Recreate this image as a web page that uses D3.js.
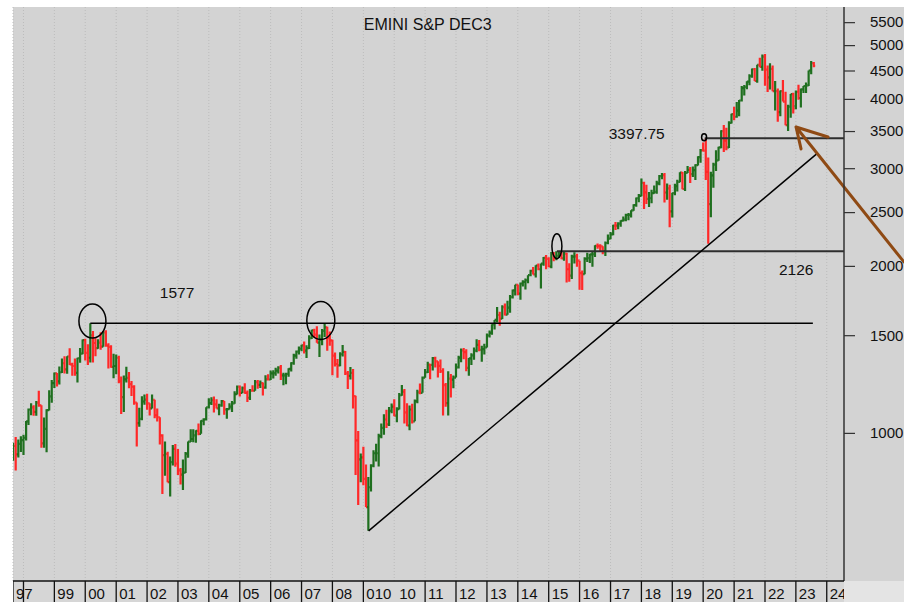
<!DOCTYPE html>
<html lang="en">
<head>
<meta charset="UTF-8">
<title>EMINI S&amp;P DEC3</title>
<script src="https://d3js.org/d3.v7.min.js"></script>
<style>
  body { margin: 0; background: #fff; }
  svg { display: block; font-family: "Liberation Sans", Arial, sans-serif; }
</style>
</head>
<body>
<svg id="chart" width="904" height="602"></svg>
<script>
// monthly bars, first bar = Sep 1997
var firstYear = 1997, firstMonth = 8;

var opens = [
  899, 947, 915, 955,
  970, 980, 1049, 1102, 1112, 1091, 1134, 1121, 957, 1017, 1099, 1164,
  1229, 1280, 1238, 1286, 1335, 1302, 1373, 1329, 1320, 1283, 1363, 1389,
  1469, 1394, 1366, 1499, 1452, 1421, 1455, 1431, 1518, 1437, 1429, 1315,
  1320, 1366, 1240, 1160, 1249, 1256, 1224, 1211, 1134, 1041, 1060, 1139,
  1148, 1130, 1107, 1147, 1076, 1067, 990, 912, 916, 815, 886, 936,
  880, 856, 841, 848, 917, 964, 975, 990, 1008, 996, 1051, 1058,
  1112, 1131, 1145, 1126, 1107, 1121, 1141, 1102, 1104, 1115, 1130, 1174,
  1212, 1181, 1204, 1181, 1157, 1192, 1191, 1234, 1220, 1229, 1207, 1249,
  1248, 1280, 1281, 1295, 1311, 1270, 1270, 1277, 1304, 1336, 1378, 1401,
  1418, 1438, 1407, 1421, 1482, 1531, 1503, 1455, 1474, 1527, 1549, 1481,
  1468, 1378, 1331, 1323, 1386, 1400, 1280, 1267, 1283, 1165, 969, 896,
  903, 826, 735, 798, 873, 919, 919, 987, 1021, 1057, 1036, 1096,
  1115, 1074, 1104, 1169, 1187, 1089, 1031, 1102, 1049, 1141, 1183, 1181,
  1258, 1286, 1327, 1326, 1364, 1345, 1321, 1292, 1219, 1131, 1253, 1247,
  1258, 1312, 1366, 1408, 1398, 1310, 1362, 1379, 1407, 1441, 1412, 1416,
  1426, 1498, 1515, 1569, 1598, 1631, 1606, 1686, 1633, 1682, 1757, 1806,
  1848, 1783, 1859, 1872, 1884, 1924, 1960, 1931, 2003, 1972, 2018, 2068,
  2059, 1995, 2105, 2068, 2086, 2107, 2063, 2104, 1972, 1920, 2079, 2080,
  2044, 1940, 1932, 2060, 2065, 2097, 2099, 2174, 2171, 2168, 2126, 2199,
  2239, 2279, 2364, 2363, 2384, 2412, 2423, 2470, 2472, 2519, 2575, 2648,
  2674, 2824, 2714, 2641, 2648, 2705, 2718, 2816, 2902, 2914, 2712, 2760,
  2507, 2704, 2784, 2834, 2946, 2752, 2942, 2980, 2926, 2977, 3038, 3141,
  3231, 3226, 2954, 2585, 2912, 3044, 3100, 3271, 3500, 3363, 3270, 3622,
  3756, 3714, 3811, 3973, 4181, 4204, 4298, 4395, 4523, 4308, 4605, 4567,
  4766, 4516, 4374, 4530, 4132, 4132, 3785, 4130, 3955, 3586, 3872, 4080,
  3880, 4120, 4015, 4160, 4220, 4230, 4500, 4640
];
var highs = [
  960, 983, 973, 986,
  992, 1051, 1106, 1131, 1122, 1141, 1191, 1122, 1066, 1103, 1193, 1245,
  1285, 1282, 1317, 1362, 1375, 1375, 1421, 1338, 1362, 1366, 1422, 1474,
  1478, 1444, 1577, 1527, 1481, 1475, 1518, 1525, 1531, 1451, 1439, 1389,
  1384, 1377, 1264, 1269, 1316, 1287, 1240, 1219, 1134, 1110, 1164, 1173,
  1176, 1131, 1173, 1147, 1107, 1067, 994, 965, 925, 907, 951, 955,
  935, 864, 895, 924, 965, 1015, 1015, 1011, 1040, 1054, 1063, 1112,
  1155, 1159, 1163, 1150, 1128, 1146, 1141, 1109, 1131, 1142, 1188, 1217,
  1217, 1212, 1229, 1192, 1200, 1219, 1246, 1245, 1243, 1233, 1270, 1276,
  1295, 1297, 1311, 1318, 1326, 1284, 1283, 1307, 1340, 1389, 1407, 1431,
  1441, 1461, 1438, 1499, 1535, 1540, 1556, 1504, 1539, 1577, 1553, 1523,
  1472, 1396, 1359, 1397, 1440, 1405, 1293, 1314, 1303, 1167, 1008, 918,
  944, 877, 833, 878, 930, 956, 996, 1040, 1080, 1101, 1113, 1130,
  1150, 1112, 1180, 1220, 1200, 1131, 1120, 1129, 1149, 1196, 1228, 1263,
  1303, 1344, 1333, 1370, 1371, 1346, 1356, 1307, 1230, 1292, 1277, 1269,
  1334, 1378, 1420, 1422, 1415, 1364, 1392, 1426, 1475, 1470, 1435, 1448,
  1510, 1530, 1570, 1598, 1687, 1654, 1698, 1710, 1730, 1772, 1814, 1849,
  1851, 1867, 1884, 1897, 1924, 1968, 1991, 2005, 2019, 2019, 2075, 2093,
  2072, 2119, 2118, 2126, 2124, 2122, 2120, 2113, 2021, 2094, 2117, 2104,
  2044, 1962, 2073, 2111, 2103, 2120, 2178, 2194, 2188, 2170, 2214, 2278,
  2301, 2372, 2400, 2398, 2418, 2454, 2484, 2491, 2520, 2582, 2657, 2695,
  2873, 2835, 2801, 2717, 2742, 2791, 2848, 2917, 2941, 2940, 2815, 2800,
  2708, 2813, 2860, 2949, 2954, 2964, 3028, 3014, 3022, 3050, 3154, 3248,
  3338, 3398, 3137, 2955, 3068, 3233, 3280, 3513, 3588, 3549, 3646, 3760,
  3870, 3950, 3983, 4219, 4238, 4302, 4430, 4538, 4546, 4608, 4743, 4809,
  4818, 4595, 4637, 4593, 4307, 4178, 4140, 4325, 4120, 3905, 4080, 4101,
  4140, 4240, 4175, 4220, 4280, 4500, 4680, 4660
];
var lows = [
  891, 855, 903, 924,
  912, 969, 1033, 1076, 1074, 1074, 1114, 940, 940, 923, 1097, 1133,
  1205, 1212, 1223, 1282, 1280, 1278, 1325, 1268, 1268, 1233, 1338, 1386,
  1350, 1326, 1339, 1339, 1374, 1418, 1412, 1429, 1430, 1306, 1311, 1254,
  1275, 1229, 1082, 1091, 1232, 1203, 1165, 1124, 945, 1026, 1054, 1124,
  1101, 1075, 1107, 1063, 1048, 953, 776, 837, 815, 768, 873, 869,
  840, 807, 789, 847, 902, 963, 962, 960, 990, 996, 1032, 1053,
  1106, 1123, 1088, 1107, 1076, 1114, 1078, 1060, 1102, 1090, 1128, 1173,
  1163, 1180, 1176, 1137, 1146, 1188, 1191, 1201, 1205, 1168, 1201, 1246,
  1246, 1253, 1268, 1280, 1245, 1219, 1224, 1262, 1290, 1327, 1360, 1385,
  1403, 1390, 1364, 1416, 1476, 1484, 1454, 1370, 1439, 1489, 1406, 1435,
  1270, 1317, 1257, 1318, 1373, 1272, 1200, 1248, 1107, 840, 741, 815,
  805, 735, 666, 784, 867, 888, 870, 978, 992, 1020, 1029, 1085,
  1071, 1045, 1102, 1167, 1040, 1028, 1011, 1040, 1049, 1131, 1174, 1181,
  1257, 1282, 1249, 1295, 1312, 1259, 1282, 1075, 1114, 1075, 1158, 1203,
  1258, 1306, 1340, 1357, 1291, 1267, 1325, 1355, 1397, 1403, 1343, 1385,
  1426, 1485, 1502, 1536, 1581, 1560, 1605, 1627, 1633, 1646, 1747, 1768,
  1770, 1738, 1835, 1814, 1860, 1915, 1930, 1905, 1964, 1821, 2001, 1972,
  1988, 1980, 2039, 2048, 2067, 2056, 2044, 1867, 1872, 1894, 2019, 1993,
  1812, 1810, 1932, 2033, 2025, 1992, 2074, 2147, 2120, 2098, 2084, 2188,
  2234, 2271, 2322, 2329, 2353, 2405, 2407, 2417, 2446, 2515, 2557, 2605,
  2670, 2533, 2585, 2553, 2594, 2698, 2698, 2796, 2864, 2603, 2631, 2347,
  2444, 2681, 2723, 2830, 2750, 2728, 2940, 2822, 2892, 2855, 3035, 3070,
  3214, 2855, 2192, 2447, 2767, 2966, 3095, 3260, 3210, 3233, 3263, 3610,
  3662, 3700, 3723, 3955, 4056, 4165, 4233, 4367, 4306, 4279, 4561, 4495,
  4222, 4115, 4157, 4129, 3811, 3637, 3721, 3955, 3585, 3502, 3699, 3764,
  3830, 3985, 3860, 4100, 4100, 4220, 4430, 4560
];
var closes = [
  947, 915, 955, 970,
  980, 1049, 1102, 1112, 1091, 1134, 1121, 957, 1017, 1099, 1164, 1229,
  1280, 1238, 1286, 1335, 1302, 1373, 1329, 1320, 1283, 1363, 1389, 1469,
  1394, 1366, 1499, 1452, 1421, 1455, 1431, 1518, 1437, 1429, 1315, 1320,
  1366, 1240, 1160, 1249, 1256, 1224, 1211, 1134, 1041, 1060, 1139, 1148,
  1130, 1107, 1147, 1076, 1067, 990, 912, 916, 815, 886, 936, 880,
  856, 841, 848, 917, 964, 975, 990, 1008, 996, 1051, 1058, 1112,
  1131, 1145, 1126, 1107, 1121, 1141, 1102, 1104, 1115, 1130, 1174, 1212,
  1181, 1204, 1181, 1157, 1192, 1191, 1234, 1220, 1229, 1207, 1249, 1248,
  1280, 1281, 1295, 1311, 1270, 1270, 1277, 1304, 1336, 1378, 1401, 1418,
  1438, 1407, 1421, 1482, 1531, 1503, 1455, 1474, 1527, 1549, 1481, 1468,
  1378, 1331, 1323, 1386, 1400, 1280, 1267, 1283, 1165, 969, 896, 903,
  826, 735, 798, 873, 919, 919, 987, 1021, 1057, 1036, 1096, 1115,
  1074, 1104, 1169, 1187, 1089, 1031, 1102, 1049, 1141, 1183, 1181, 1258,
  1286, 1327, 1326, 1364, 1345, 1321, 1292, 1219, 1131, 1253, 1247, 1258,
  1312, 1366, 1408, 1398, 1310, 1362, 1379, 1407, 1441, 1412, 1416, 1426,
  1498, 1515, 1569, 1598, 1631, 1606, 1686, 1633, 1682, 1757, 1806, 1848,
  1783, 1859, 1872, 1884, 1924, 1960, 1931, 2003, 1972, 2018, 2068, 2059,
  1995, 2105, 2068, 2086, 2107, 2063, 2104, 1972, 1920, 2079, 2080, 2044,
  1940, 1932, 2060, 2065, 2097, 2099, 2174, 2171, 2168, 2126, 2199, 2239,
  2279, 2364, 2363, 2384, 2412, 2423, 2470, 2472, 2519, 2575, 2648, 2674,
  2824, 2714, 2641, 2648, 2705, 2718, 2816, 2902, 2914, 2712, 2760, 2507,
  2704, 2784, 2834, 2946, 2752, 2942, 2980, 2926, 2977, 3038, 3141, 3231,
  3226, 2954, 2585, 2912, 3044, 3100, 3271, 3500, 3363, 3270, 3622, 3756,
  3714, 3811, 3973, 4181, 4204, 4298, 4395, 4523, 4308, 4605, 4567, 4766,
  4516, 4374, 4530, 4132, 4132, 3785, 4130, 3955, 3586, 3872, 4080, 3840,
  4120, 4015, 4160, 4220, 4230, 4500, 4640, 4590
];

// bottom axis
var tickYears  = [1997, 1998, 1999, 2000, 2001, 2002, 2003, 2004, 2005, 2006, 2007, 2008, 2009, 2010,
                  2011, 2012, 2013, 2014, 2015, 2016, 2017, 2018, 2019, 2020, 2021, 2022, 2023, 2024];
var tickLabels = ["97", "", "99", "00", "01", "02", "03", "04", "05", "06", "07", "08", "010", "10",
                  "11", "12", "13", "14", "15", "16", "17", "18", "19", "20", "21", "22", "23", "24"];
var noSeparator = [2010];

// right axis
var majorTicks = [1000, 1500, 2000, 2500, 3000, 3500, 4000, 4500, 5000, 5500];
var minorTicks = d3.range(600, 5900, 100);

// drawn levels
var levels = [1577, 2126, 3397.75];
var levelLabels = ["1577", "2126", "3397.75"];

var svg = d3.select("#chart");
var L = 13, R = 844, T = 7, B = 581;

var x = d3.scaleTime()
  .domain([new Date(1997, 7, 30), new Date(2024, 6, 23)])
  .range([L, R]);
var y = d3.scaleLog()
  .domain([543, 5857])
  .range([B - 1, T]);

// backgrounds
svg.append("rect").attr("x", L).attr("y", T).attr("width", 904 - L).attr("height", B - T).attr("fill", "#d3d3d3");
svg.append("rect").attr("x", L).attr("y", B).attr("width", R - L).attr("height", 602 - B).attr("fill", "#d6d6d6");
svg.append("rect").attr("x", R).attr("y", B).attr("width", 904 - R).attr("height", 602 - B).attr("fill", "#e4e4e4");

svg.append("defs").append("clipPath").attr("id", "plotclip")
  .append("rect").attr("x", L).attr("y", T).attr("width", R - L).attr("height", B - T);
svg.append("defs").append("clipPath").attr("id", "bandclip")
  .append("rect").attr("x", L).attr("y", B).attr("width", R - L).attr("height", 602 - B);

// dotted year grid
var gridX = [L].concat(tickYears.slice(1).map(function(yr) { return x(new Date(yr, 0, 1)); }));
svg.append("g").selectAll("line").data(gridX).enter().append("line")
  .attr("x1", function(d) { return d; }).attr("x2", function(d) { return d; })
  .attr("y1", T).attr("y2", B)
  .attr("stroke", "#bcbcbc").attr("stroke-width", 1).attr("stroke-dasharray", "1,2");

// bars
var bars = opens.map(function(o, i) {
  return { date: new Date(firstYear, firstMonth + i, 1), o: o, h: highs[i], l: lows[i], c: closes[i] };
});
var plotG = svg.append("g").attr("clip-path", "url(#plotclip)");
plotG.selectAll("path.bar").data(bars).enter().append("path")
  .attr("class", "bar")
  .attr("d", function(d) {
    var px = x(d.date);
    return "M" + px + "," + y(d.h) + "V" + y(d.l) +
      "M" + (px - 1.4) + "," + y(d.o) + "H" + px +
      "M" + px + "," + y(d.c) + "H" + (px + 1.4);
  })
  .attr("fill", "none")
  .attr("stroke", function(d) { return d.c >= d.o ? "#1f6f1f" : "#ff2828"; })
  .attr("stroke-width", 2.2);

// level lines
var levelFrom = [new Date(2000, 2, 1), new Date(2015, 3, 8), new Date(2020, 0, 20)];
var levelTo = [new Date(2023, 6, 21), x.domain()[1], x.domain()[1]];
var levelG = svg.append("g").attr("clip-path", "url(#plotclip)");
levels.forEach(function(v, i) {
  levelG.append("line")
    .attr("x1", x(levelFrom[i])).attr("x2", x(levelTo[i]))
    .attr("y1", y(v)).attr("y2", y(v))
    .attr("stroke", i === 0 ? "#000" : "#2e2e2e")
    .attr("stroke-width", i === 0 ? 1.5 : 2);
});

// trend line from the 2009 low
var trendFrom = { date: new Date(2009, 2, 4), value: 666 };
var trendTo = { date: new Date(2023, 8, 18), value: 3196 };
levelG.append("line")
  .attr("x1", x(trendFrom.date)).attr("y1", y(trendFrom.value))
  .attr("x2", x(trendTo.date)).attr("y2", y(trendTo.value))
  .attr("stroke", "#000").attr("stroke-width", 1.5);

// circles round the tops
var rings = [
  { date: new Date(2000, 2, 26), value: 1591, rx: 13.5, ry: 17 },
  { date: new Date(2007, 7, 17), value: 1595, rx: 14, ry: 19 },
  { date: new Date(2015, 3, 8), value: 2170, rx: 5, ry: 12.5 },
  { date: new Date(2020, 0, 12), value: 3412, rx: 2.5, ry: 3.5 }
];
levelG.selectAll("ellipse").data(rings).enter().append("ellipse")
  .attr("cx", function(d) { return x(d.date); })
  .attr("cy", function(d) { return y(d.value); })
  .attr("rx", function(d) { return d.rx; })
  .attr("ry", function(d) { return d.ry; })
  .attr("fill", "none").attr("stroke", "#000").attr("stroke-width", 1.5);

// level labels
var labelDates = [new Date(2002, 5, 1), new Date(2022, 5, 15), new Date(2016, 11, 10)];
var labelShift = [-25, 24, 1];
levels.forEach(function(v, i) {
  svg.append("text")
    .attr("x", x(labelDates[i])).attr("y", y(v) + labelShift[i])
    .attr("font-size", 15.5).attr("fill", "#111")
    .text(levelLabels[i]);
});

// title
svg.append("text").attr("x", x(new Date(2011, 1, 1))).attr("y", 30)
  .attr("text-anchor", "middle").attr("font-size", 16).attr("fill", "#111")
  .text("EMINI S&P DEC3");

// brown arrow pointing at the 2022 low
var arrowTip = { date: new Date(2023, 0, 3), value: 3560 };
var arrowTail = { date: new Date(2026, 6, 1), value: 2033 };
var tx = x(arrowTip.date), ty = y(arrowTip.value);
svg.append("path")
  .attr("d", "M" + x(arrowTail.date) + "," + y(arrowTail.value) + "L" + tx + "," + ty +
    "M" + (tx + 32) + "," + (ty + 10) + "L" + tx + "," + ty + "L" + (tx + 5) + "," + (ty + 22))
  .attr("fill", "none").attr("stroke", "#8f4a14").attr("stroke-width", 3)
  .attr("stroke-linecap", "round").attr("stroke-linejoin", "round");

// right axis
var axisG = svg.append("g").attr("transform", "translate(" + R + ",0)");
axisG.call(d3.axisRight(y).tickValues(minorTicks).tickSize(5).tickSizeOuter(0).tickFormat(""));
axisG.call(d3.axisRight(y).tickValues(majorTicks).tickSize(11).tickSizeOuter(0).tickPadding(15).tickFormat(d3.format("d")));
axisG.selectAll(".domain").remove();
axisG.selectAll("line").attr("stroke", "#333").attr("stroke-width", 1.2);
axisG.selectAll("text").attr("font-size", 15).attr("fill", "#111")
  .attr("font-family", "'Liberation Sans', Arial, sans-serif");
svg.append("line").attr("x1", R).attr("x2", R).attr("y1", T).attr("y2", B)
  .attr("stroke", "#333").attr("stroke-width", 1.5);

// bottom band
var band = svg.append("g").attr("clip-path", "url(#bandclip)");
svg.append("line").attr("x1", L).attr("x2", R).attr("y1", B).attr("y2", B)
  .attr("stroke", "#111").attr("stroke-width", 1.5);
tickYears.forEach(function(yr, i) {
  var px = Math.max(L, x(new Date(yr, 0, 1)));
  if (noSeparator.indexOf(yr) < 0) {
    band.append("line").attr("x1", px).attr("x2", px).attr("y1", B).attr("y2", 602)
      .attr("stroke", "#111").attr("stroke-width", 1.3);
  }
  band.append("text")
    .attr("x", px + (noSeparator.indexOf(yr) < 0 ? 3 : 5)).attr("y", 599)
    .attr("font-size", 15).attr("fill", "#111")
    .text(tickLabels[i]);
});
</script>
</body>
</html>
